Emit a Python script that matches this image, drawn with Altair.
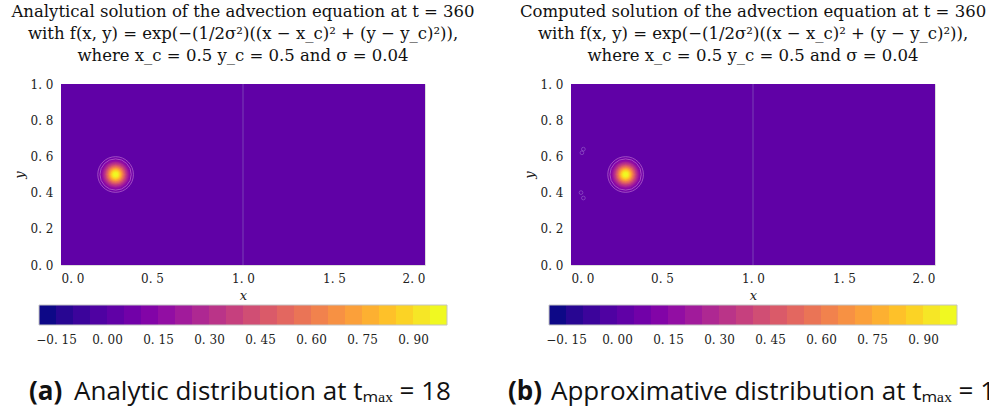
import altair as alt
import pandas as pd

# ---- data ----
x_ticks = [0.0, 0.5, 1.0, 1.5, 2.0]
y_ticks = [0.0, 0.2, 0.4, 0.6, 0.8, 1.0]
cbar_ticks = [-0.15, 0.0, 0.15, 0.30, 0.45, 0.60, 0.75, 0.90]

# 24 contour bands of the colour bar
band_lo = [-0.20, -0.15, -0.10, -0.05, 0.00, 0.05, 0.10, 0.15, 0.20, 0.25, 0.30, 0.35,
           0.40, 0.45, 0.50, 0.55, 0.60, 0.65, 0.70, 0.75, 0.80, 0.85, 0.90, 0.95]
band_hi = [-0.15, -0.10, -0.05, 0.00, 0.05, 0.10, 0.15, 0.20, 0.25, 0.30, 0.35, 0.40,
           0.45, 0.50, 0.55, 0.60, 0.65, 0.70, 0.75, 0.80, 0.85, 0.90, 0.95, 1.00]

# contour rings of the pulse (level and radius in plot units)
ring_levels = [0.05, 0.10, 0.15, 0.20, 0.25, 0.30, 0.35, 0.40, 0.45, 0.50,
               0.55, 0.60, 0.65, 0.70, 0.75, 0.80, 0.85, 0.90, 0.95]
ring_radii = [0.098, 0.086, 0.078, 0.072, 0.067, 0.062, 0.058, 0.054, 0.051, 0.047,
              0.044, 0.040, 0.037, 0.034, 0.030, 0.027, 0.023, 0.018, 0.013]
pulse_x = 0.3
pulse_y = 0.5
background_level = 0.0
seam_x = [1.0]

# small spurious contours in the computed solution
artifact_x = [0.060, 0.068, 0.055, 0.068]
artifact_y = [0.620, 0.640, 0.400, 0.370]

titles_a = ["Analytical solution of the advection equation at t =  360",
            "with f(x, y) = exp(−(1/2σ²)((x − x_c)² + (y − y_c)²)),",
            "where x_c = 0.5  y_c = 0.5 and σ = 0.04"]
titles_b = ["Computed solution of the advection equation at t =  360",
            "with f(x, y) = exp(−(1/2σ²)((x − x_c)² + (y − y_c)²)),",
            "where x_c = 0.5  y_c = 0.5 and σ = 0.04"]
caption_a = ["(a)", "Analytic distribution at tₘₐₓ = 18"]
caption_b = ["(b)", "Approximative distribution at tₘₐₓ = 18"]

SERIF = "DejaVu Serif"
SANS = "Open Sans"
cscale = alt.Scale(scheme="plasma", domain=[-0.175, 0.975])
xs = alt.Scale(domain=[0, 2], nice=False, zero=False)
ys = alt.Scale(domain=[0, 1], nice=False, zero=False)
cbs = alt.Scale(domain=[-0.2, 1.0], range=[-22, 386], nice=False, zero=False)

bg_df = pd.DataFrame({"x0": [0.0], "x1": [2.0], "y0": [0.0], "y1": [1.0],
                      "mid": [background_level + 0.025]})
ring_df = pd.DataFrame({"level": ring_levels, "r": ring_radii,
                        "cx": [pulse_x] * len(ring_levels),
                        "cy": [pulse_y] * len(ring_levels),
                        "mid": [v + 0.025 for v in ring_levels]})
band_df = pd.DataFrame({"lo": band_lo, "hi": band_hi,
                        "mid": [(a + b) / 2 for a, b in zip(band_lo, band_hi)]})
seam_df = pd.DataFrame({"x": seam_x})
art_df = pd.DataFrame({"x": artifact_x, "y": artifact_y})

pt_label = "replace(format(datum.value, '.1f'), '.', '. ')"
cb_label = "replace(replace(format(datum.value, '.2f'), '-', '−'), '.', '. ')"

common = dict(ticks=False, domain=False, grid=False, labelOverlap=False,
              labelFont=SERIF, labelFontSize=12, titleFont=SERIF,
              titleFontSize=13, titleFontStyle="italic", titleFontWeight="normal",
              labelColor="#222", titleColor="#222")


def panel(title_lines, artifacts):
    xaxis = alt.Axis(values=x_ticks, tickCount=len(x_ticks), labelExpr=pt_label, title="x",
                     labelPadding=8, titlePadding=5, **common)
    yaxis = alt.Axis(values=y_ticks, tickCount=len(y_ticks), labelExpr=pt_label, title="y",
                     labelPadding=8, titlePadding=4, **common)
    bg = alt.Chart(bg_df).mark_rect().encode(
        x=alt.X("x0:Q", scale=xs, axis=xaxis), x2="x1",
        y=alt.Y("y0:Q", scale=ys, axis=yaxis), y2="y1",
        color=alt.Color("mid:Q", scale=cscale, legend=None))
    size_scale = alt.Scale(type="pow", exponent=2, domain=[0, 0.1], range=[0, 1325])
    discs = alt.Chart(ring_df).mark_point(filled=True, shape="circle", opacity=1,
                                          strokeWidth=0).encode(
        x=alt.X("cx:Q", scale=xs), y=alt.Y("cy:Q", scale=ys),
        size=alt.Size("r:Q", scale=size_scale, legend=None),
        color=alt.Color("mid:Q", scale=cscale, legend=None),
        order=alt.Order("level:Q"))
    rings = alt.Chart(ring_df).transform_filter("datum.level <= 0.1").mark_point(
        filled=False, shape="circle", color="#d99ae0", strokeWidth=0.7, opacity=0.7
    ).encode(x=alt.X("cx:Q", scale=xs), y=alt.Y("cy:Q", scale=ys),
             size=alt.Size("r:Q", scale=size_scale, legend=None))
    seam = alt.Chart(seam_df).mark_rule(color="#8a62bf", strokeWidth=1, opacity=0.65).encode(
        x=alt.X("x:Q", scale=xs))
    layers = [bg, seam, discs, rings]
    if artifacts:
        art = alt.Chart(art_df).mark_point(shape="circle", filled=False, size=14,
                                           color="#a77ad6", strokeWidth=0.7).encode(
            x=alt.X("x:Q", scale=xs), y=alt.Y("y:Q", scale=ys))
        layers.append(art)
    field = alt.layer(*layers)

    # colour bar: its own x scale, drawn below the field
    cbar = alt.Chart(band_df).mark_rect().encode(
        x=alt.X("lo:Q", scale=cbs,
                axis=alt.Axis(values=cbar_ticks, tickCount=len(cbar_ticks),
                              labelExpr=cb_label, title=None,
                              orient="bottom", offset=60, ticks=False, domain=False,
                              grid=False, labelPadding=9, labelOverlap=False,
                              labelFont=SERIF, labelFontSize=12, labelColor="#222")),
        x2="hi",
        y=alt.value(221), y2=alt.value(241),
        color=alt.Color("mid:Q", scale=cscale, legend=None))
    cbar_frame = alt.Chart(pd.DataFrame({"lo": [band_lo[0]], "hi": [band_hi[-1]]})).mark_rect(
        fill=None, stroke="#c4c4c4", strokeWidth=1).encode(
        x=alt.X("lo:Q", scale=cbs), x2="hi", y=alt.value(221), y2=alt.value(241))
    bar = alt.layer(cbar, cbar_frame)

    return alt.layer(field, bar).resolve_scale(x="independent").properties(
        width=364, height=181,
        title=alt.Title(text=title_lines, font=SERIF, fontSize=16.5, fontWeight="normal",
                        color="#111", anchor="middle", frame="group", offset=14,
                        lineHeight=22))


def caption_text(txt, xpos, bold, clip):
    return alt.Chart(pd.DataFrame({"t": [txt]})).mark_text(
        font=SANS, fontSize=26, fontWeight="bold" if bold else "normal",
        align="left", baseline="alphabetic", color="#111", clip=clip).encode(
        x=alt.value(xpos), y=alt.value(53), text="t:N")


captions = alt.layer(
    caption_text(caption_a[0], -32, True, False),
    caption_text(caption_a[1], 13, False, False),
    caption_text(caption_b[0], 447, True, True),
    caption_text(caption_b[1], 490, False, True),
).properties(width=928, height=60, view=alt.ViewBackground(stroke="transparent"))

top = alt.hconcat(panel(titles_a, False), panel(titles_b, True), spacing=38)

chart = alt.vconcat(top, captions, spacing=0).configure_view(
    stroke="#c4c4c4", strokeWidth=1.2).configure_axis(labelOverlap=False).configure(
    background="white", padding={"left": 8, "top": 3, "right": 0, "bottom": 0})

chart.save("out.html", embed_options={"renderer": "svg", "actions": False})
